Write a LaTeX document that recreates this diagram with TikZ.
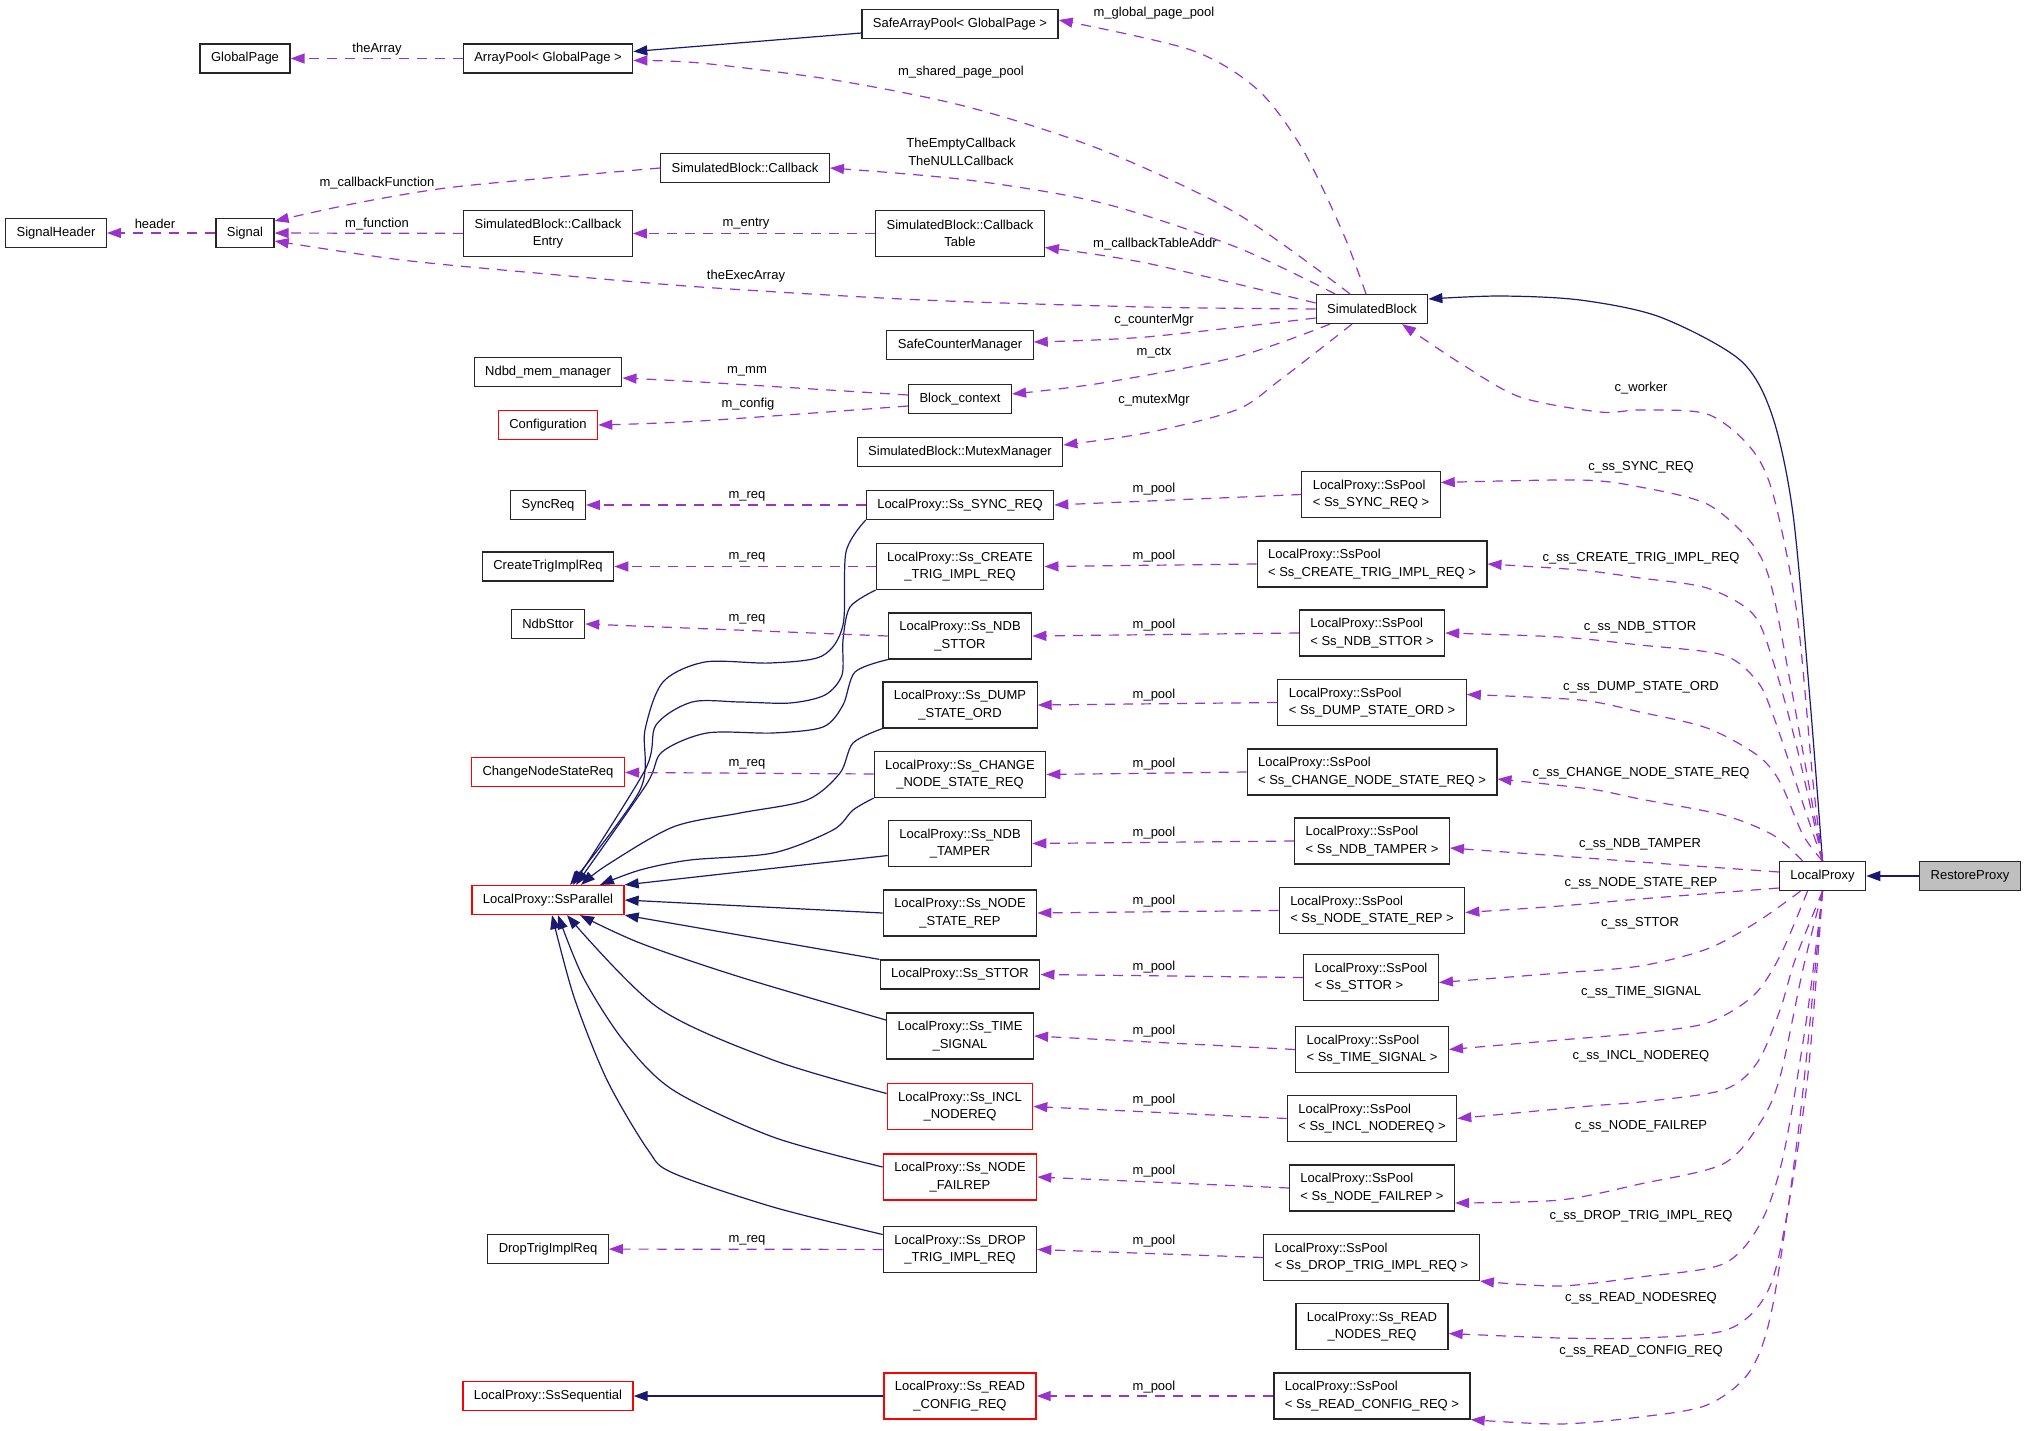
\documentclass[tikz,border=0pt]{standalone}
\usepackage{fontspec}
\usetikzlibrary{arrows.meta}

\newfontfamily\dxfont{Liberation Sans}
\newcommand{\dxf}{\dxfont\fontsize{13pt}{17.5pt}\selectfont}

\definecolor{usecol}{HTML}{9A32CD}
\definecolor{inhcol}{HTML}{191970}
\definecolor{restfill}{HTML}{BFBFBF}

\tikzstyle{klass}=[rectangle, draw=black!85, line width=1.2pt,
                   inner xsep=11pt, inner ysep=3pt, minimum height=29pt, font=\dxf]
\tikzstyle{klasstwo}=[klass, minimum height=46pt, align=center]
\tikzstyle{pool}=[klass, minimum height=46pt, align=left]
\tikzstyle{undoc}=[draw=red]
\tikzstyle{lbl}=[inner sep=0pt, font=\dxf]
\tikzstyle{member}=[usecol, line width=1.2pt, dash pattern=on 10pt off 8pt,
                    -{Triangle[length=14pt,width=10pt]}]
\tikzstyle{inherit}=[inhcol, line width=1.2pt, -{Triangle[length=14pt,width=10pt]}]

\begin{document}
\begin{tikzpicture}[x=1pt, y=-1pt]
  \fill[white] (0,0) rectangle (2027,1430);
  \useasboundingbox (0,0) rectangle (2027,1430);

  %%%%%%%%%%%%%%%%%%%%%%%%%%%%%%
  %%%%%%%%%%%%%%%%%%%%%%%%%%%%%%
  % collaboration

  %%%%%%%%%%%%%%%%%%%%%%%%%%%%%%
  % nodes
  % simulated block
  \node (globalpage) at (245, 58.5) [klass] {GlobalPage};
  \node (arraypool) at (548, 58.5) [klass] {ArrayPool< GlobalPage >};
  \node (safearray) at (960, 24) [klass] {SafeArrayPool< GlobalPage >};
  \node (callback) at (745, 168) [klass] {SimulatedBlock::Callback};
  \node (sigheader) at (56, 233) [klass] {SignalHeader};
  \node (signal) at (245, 233) [klass] {Signal};
  \node (cbentry) at (548, 233.5) [klasstwo] {SimulatedBlock::Callback\\Entry};
  \node (cbtable) at (960, 233.5) [klasstwo] {SimulatedBlock::Callback\\Table};
  \node (sb) at (1372, 309) [klass] {SimulatedBlock};
  \node (safecounter) at (960, 345) [klass] {SafeCounterManager};
  \node (ndbd) at (548, 372) [klass] {Ndbd\_mem\_manager};
  \node (blockctx) at (960, 399) [klass] {Block\_context};
  \node (config) at (548, 425) [klass, undoc] {Configuration};
  \node (mutex) at (960, 452) [klass] {SimulatedBlock::MutexManager};

  % requests
  \node (syncreq) at (548, 505) [klass] {SyncReq};
  \node (createreq) at (548, 566.5) [klass] {CreateTrigImplReq};
  \node (ndbsttor) at (548, 624) [klass] {NdbSttor};
  \node (cnsreq) at (548, 772) [klass, undoc] {ChangeNodeStateReq};
  \node (sspar) at (548, 900) [klass, undoc] {LocalProxy::SsParallel};
  \node (dropreq) at (548, 1249) [klass] {DropTrigImplReq};
  \node (ssseq) at (548, 1396) [klass, undoc] {LocalProxy::SsSequential};

  % signal states
  \node (ss_sync) at (960, 505) [klass] {LocalProxy::Ss\_SYNC\_REQ};
  \node (ss_create) at (960, 566.5) [klasstwo] {LocalProxy::Ss\_CREATE\\\_TRIG\_IMPL\_REQ};
  \node (ss_ndbst) at (960, 636) [klasstwo] {LocalProxy::Ss\_NDB\\\_STTOR};
  \node (ss_dump) at (960, 705) [klasstwo] {LocalProxy::Ss\_DUMP\\\_STATE\_ORD};
  \node (ss_change) at (960, 774.5) [klasstwo] {LocalProxy::Ss\_CHANGE\\\_NODE\_STATE\_REQ};
  \node (ss_tamper) at (960, 843.5) [klasstwo] {LocalProxy::Ss\_NDB\\\_TAMPER};
  \node (ss_nsrep) at (960, 913) [klasstwo] {LocalProxy::Ss\_NODE\\\_STATE\_REP};
  \node (ss_sttor) at (960, 974.5) [klass] {LocalProxy::Ss\_STTOR};
  \node (ss_time) at (960, 1036) [klasstwo] {LocalProxy::Ss\_TIME\\\_SIGNAL};
  \node (ss_incl) at (960, 1106.5) [klasstwo, undoc] {LocalProxy::Ss\_INCL\\\_NODEREQ};
  \node (ss_fail) at (960, 1177) [klasstwo, undoc] {LocalProxy::Ss\_NODE\\\_FAILREP};
  \node (ss_drop) at (960, 1249.5) [klasstwo] {LocalProxy::Ss\_DROP\\\_TRIG\_IMPL\_REQ};
  \node (ss_rcfg) at (960, 1396) [klasstwo, undoc] {LocalProxy::Ss\_READ\\\_CONFIG\_REQ};

  % pools
  \node (pool_sync) at (1371, 494.5) [pool] {LocalProxy::SsPool\\< Ss\_SYNC\_REQ >};
  \node (pool_create) at (1372, 564) [pool] {LocalProxy::SsPool\\< Ss\_CREATE\_TRIG\_IMPL\_REQ >};
  \node (pool_ndbst) at (1372, 633) [pool] {LocalProxy::SsPool\\< Ss\_NDB\_STTOR >};
  \node (pool_dump) at (1372, 702.5) [pool] {LocalProxy::SsPool\\< Ss\_DUMP\_STATE\_ORD >};
  \node (pool_change) at (1372, 772) [pool] {LocalProxy::SsPool\\< Ss\_CHANGE\_NODE\_STATE\_REQ >};
  \node (pool_tamper) at (1372, 841) [pool] {LocalProxy::SsPool\\< Ss\_NDB\_TAMPER >};
  \node (pool_nsrep) at (1372, 910.5) [pool] {LocalProxy::SsPool\\< Ss\_NODE\_STATE\_REP >};
  \node (pool_sttor) at (1371, 977.5) [pool] {LocalProxy::SsPool\\< Ss\_STTOR >};
  \node (pool_time) at (1372, 1049.5) [pool] {LocalProxy::SsPool\\< Ss\_TIME\_SIGNAL >};
  \node (pool_incl) at (1372, 1118.5) [pool] {LocalProxy::SsPool\\< Ss\_INCL\_NODEREQ >};
  \node (pool_fail) at (1372, 1188) [pool] {LocalProxy::SsPool\\< Ss\_NODE\_FAILREP >};
  \node (pool_drop) at (1371.5, 1257.5) [pool] {LocalProxy::SsPool\\< Ss\_DROP\_TRIG\_IMPL\_REQ >};
  \node (ss_rnodes) at (1372, 1326.5) [klasstwo] {LocalProxy::Ss\_READ\\\_NODES\_REQ};
  \node (pool_rcfg) at (1372, 1396) [pool] {LocalProxy::SsPool\\< Ss\_READ\_CONFIG\_REQ >};

  % proxies
  \node (lp) at (1822.5, 876) [klass] {LocalProxy};
  \node (restore) at (1970, 876) [klass, fill=restfill] {RestoreProxy};

  %%%%%%%%%%%%%%%%%%%%%%%%%%%%%%
  % labels
  \node (l_thearray) at (377, 49) [lbl] {theArray};
  \node (l_cbfunc) at (377, 183) [lbl] {m\_callbackFunction};
  \node (l_header) at (155, 224) [lbl] {header};
  \node (l_func) at (377, 224) [lbl] {m\_function};
  \node (l_gpool) at (1154, 13) [lbl] {m\_global\_page\_pool};
  \node (l_spool) at (961, 72) [lbl] {m\_shared\_page\_pool};
  \node (l_thecb) at (961, 152) [lbl, align=center] {TheEmptyCallback\\TheNULLCallback};
  \node (l_entry) at (746, 224) [lbl] {m\_entry};
  \node (l_cbtable) at (1155, 244) [lbl] {m\_callbackTableAddr};
  \node (l_exec) at (746, 276) [lbl] {theExecArray};
  \node (l_counter) at (1154, 320) [lbl] {c\_counterMgr};
  \node (l_ctx) at (1154, 353) [lbl] {m\_ctx};
  \node (l_mm) at (747, 371) [lbl] {m\_mm};
  \node (l_config) at (748, 404) [lbl] {m\_config};
  \node (l_mutex) at (1154, 400) [lbl] {c\_mutexMgr};
  \node (l_worker) at (1641, 388) [lbl] {c\_worker};

  \node (l_req1) at (747, 496) [lbl] {m\_req};
  \node (l_req2) at (747, 557) [lbl] {m\_req};
  \node (l_req3) at (747, 619) [lbl] {m\_req};
  \node (l_req4) at (747, 764) [lbl] {m\_req};
  \node (l_req5) at (747, 1240) [lbl] {m\_req};

  \node (l_pool1) at (1154, 489) [lbl] {m\_pool};
  \node (l_pool2) at (1154, 556) [lbl] {m\_pool};
  \node (l_pool3) at (1154, 625) [lbl] {m\_pool};
  \node (l_pool4) at (1154, 695) [lbl] {m\_pool};
  \node (l_pool5) at (1154, 764) [lbl] {m\_pool};
  \node (l_pool6) at (1154, 833) [lbl] {m\_pool};
  \node (l_pool7) at (1154, 901) [lbl] {m\_pool};
  \node (l_pool8) at (1154, 967) [lbl] {m\_pool};
  \node (l_pool9) at (1154, 1031) [lbl] {m\_pool};
  \node (l_pool10) at (1154, 1100) [lbl] {m\_pool};
  \node (l_pool11) at (1154, 1171) [lbl] {m\_pool};
  \node (l_pool12) at (1154, 1241) [lbl] {m\_pool};
  \node (l_pool13) at (1154, 1387) [lbl] {m\_pool};

  \node (l_css1) at (1641, 467) [lbl] {c\_ss\_SYNC\_REQ};
  \node (l_css2) at (1641, 558) [lbl] {c\_ss\_CREATE\_TRIG\_IMPL\_REQ};
  \node (l_css3) at (1640, 627) [lbl] {c\_ss\_NDB\_STTOR};
  \node (l_css4) at (1641, 687) [lbl] {c\_ss\_DUMP\_STATE\_ORD};
  \node (l_css5) at (1641, 773) [lbl] {c\_ss\_CHANGE\_NODE\_STATE\_REQ};
  \node (l_css6) at (1640, 844) [lbl] {c\_ss\_NDB\_TAMPER};
  \node (l_css7) at (1641, 883) [lbl] {c\_ss\_NODE\_STATE\_REP};
  \node (l_css8) at (1640, 923) [lbl] {c\_ss\_STTOR};
  \node (l_css9) at (1641, 992) [lbl] {c\_ss\_TIME\_SIGNAL};
  \node (l_css10) at (1641, 1056) [lbl] {c\_ss\_INCL\_NODEREQ};
  \node (l_css11) at (1641, 1126) [lbl] {c\_ss\_NODE\_FAILREP};
  \node (l_css12) at (1641, 1216) [lbl] {c\_ss\_DROP\_TRIG\_IMPL\_REQ};
  \node (l_css13) at (1641, 1298) [lbl] {c\_ss\_READ\_NODESREQ};
  \node (l_css14) at (1641, 1351) [lbl] {c\_ss\_READ\_CONFIG\_REQ};

  %%%%%%%%%%%%%%%%%%%%%%%%%%%%%%
  % links
  % inheritance
  \draw [inherit] ([yshift=-9pt]safearray.west) to ([yshift=7pt]arraypool.east);
  \draw [inherit] (restore) to (lp);
  \draw [inherit] plot[smooth] coordinates {(lp.north) (1810,700) (1793,514) (1772,415)
        (1740,360) (1660,317) (1580,300) (1500,296) ([yshift=10pt]sb.east)};
  \draw [inherit] (ss_rcfg) to (ssseq);

  \draw [inherit] plot[smooth] coordinates {(ss_sync.south west) (846,552) (843,625)
        (822,656) (770,663) (705,662) (663,682) (645,730) (640,790) ([xshift=22pt]sspar.north)};
  \draw [inherit] plot[smooth] coordinates {(ss_create.south west) (850,607) (843,640)
        (842,675) (825,695) (790,703) (740,702) (692,702) (656,725) (645,770) ([xshift=25pt]sspar.north)};
  \draw [inherit] plot[smooth] coordinates {(ss_ndbst.south west) (855,672) (843,705)
        (823,727) (773,733) (707,733) (662,752) (646,785) ([xshift=28pt]sspar.north)};
  \draw [inherit] plot[smooth] coordinates {(ss_dump.south west) (853,743) (840,773)
        (807,800) (740,813) (673,827) (607,865) ([xshift=33pt]sspar.north)};
  \draw [inherit] plot[smooth] coordinates {(ss_change.south west) (853,810) (833,830)
        (773,853) (690,860) (640,870) ([xshift=52pt]sspar.north)};
  \draw [inherit] ([yshift=-12pt]ss_tamper.west) to (sspar.north east);
  \draw [inherit] (ss_nsrep.west) to (sspar.east);
  \draw [inherit] (ss_sttor.north west) to (sspar.south east);
  \draw [inherit] plot[smooth] coordinates {([yshift=16pt]ss_time.west) (740,977) (640,943)
        ([xshift=32pt]sspar.south)};
  \draw [inherit] plot[smooth] coordinates {([yshift=13pt]ss_incl.west) (773,1060) (657,1007)
        ([xshift=19pt]sspar.south)};
  \draw [inherit] plot[smooth] coordinates {([yshift=10pt]ss_fail.west) (773,1137) (673,1090)
        (623,1040) (583,977) ([xshift=10pt]sspar.south)};
  \draw [inherit] plot[smooth] coordinates {([yshift=15pt]ss_drop.west) (773,1207) (673,1173)
        (648,1150) (607,1080) (574,997) ([xshift=4pt]sspar.south)};

  % members, simulated block
  \draw [member] (arraypool) to (globalpage);
  \draw [member] (cbentry) to (signal);
  \draw [member] (signal) to (sigheader);
  \draw [member] (cbtable) to (cbentry);
  \draw [member] plot[smooth] coordinates {([xshift=-6pt]sb.north) (1343,233) (1303,150)
        (1258,90) (1191,50) ([yshift=4pt]safearray.east)};
  \draw [member] plot[smooth] coordinates {([xshift=-22pt]sb.north) (1236,213) (1102,150)
        (968,107) (834,80) (700,63) ([yshift=-2pt]arraypool.east)};
  \draw [member] plot[smooth] coordinates {([xshift=-37pt]sb.north) (1236,247) (1102,203)
        (968,180) (callback.east)};
  \draw [member] plot[smooth] coordinates {([yshift=6pt]sb.west) (1146,263)
        ([yshift=-14pt]cbtable.east)};
  \draw [member] plot[smooth] coordinates {(sb.west) (1146,307) (923,300) (700,287)
        (536,273) (402,260) ([yshift=-8pt]signal.east)};
  \draw [member] plot[smooth] coordinates {(callback.west) (558,177) (446,188) (357,203)
        ([yshift=12pt]signal.east)};
  \draw [member] plot[smooth] coordinates {([yshift=-9pt]sb.west) (1146,337)
        ([yshift=3pt]safecounter.east)};
  \draw [member] plot[smooth] coordinates {([xshift=-42pt]sb.south) (1236,357) (1102,383)
        ([yshift=5pt]blockctx.east)};
  \draw [member] plot[smooth] coordinates {([xshift=-20pt]sb.south) (1280,380) (1236,410)
        (1146,433) ([yshift=7pt]mutex.east)};
  \draw [member] plot[smooth] coordinates {([yshift=4pt]blockctx.west) (700,382)
        ([yshift=-6pt]ndbd.east)};
  \draw [member] plot[smooth] coordinates {([yshift=-7pt]blockctx.west) (700,421)
        (config.east)};

  % members, requests
  \draw [member] (ss_sync) to (syncreq);
  \draw [member] (ss_create) to (createreq);
  \draw [member] (ss_ndbst.west) to (ndbsttor.east);
  \draw [member] (ss_change) to (cnsreq);
  \draw [member] (ss_drop) to (dropreq);

  % members, pools
  \draw [member] (pool_sync.west) to (ss_sync.east);
  \draw [member] (pool_create.west) to (ss_create.east);
  \draw [member] (pool_ndbst.west) to (ss_ndbst.east);
  \draw [member] (pool_dump.west) to (ss_dump.east);
  \draw [member] (pool_change.west) to (ss_change.east);
  \draw [member] (pool_tamper.west) to (ss_tamper.east);
  \draw [member] (pool_nsrep.west) to (ss_nsrep.east);
  \draw [member] (pool_sttor.west) to (ss_sttor.east);
  \draw [member] (pool_time.west) to (ss_time.east);
  \draw [member] (pool_incl.west) to (ss_incl.east);
  \draw [member] (pool_fail.west) to (ss_fail.east);
  \draw [member] (pool_drop.west) to (ss_drop.east);
  \draw [member] (pool_rcfg.west) to (ss_rcfg.east);

  % members, local proxy
  \draw [member] plot[smooth] coordinates {(lp.north) (1813,782) (1797,614) (1773,494)
        (1750,447) (1707,414) (1640,410) (1600,412) (1520,397) (1460,363) ([xshift=30pt]sb.south)};
  \draw [member] plot[smooth] coordinates {(lp.north) (1790,681) (1770,581) (1750,541)
        (1707,504) (1640,487) (1580,480) ([yshift=12pt]pool_sync.east)};
  \draw [member] plot[smooth] coordinates {(lp.north) (1797,748) (1773,661) (1753,614)
        (1707,588) (1640,578) (1580,570) (pool_create.east)};
  \draw [member] plot[smooth] coordinates {(lp.north) (1800,795) (1773,715) (1757,681)
        (1723,655) (1640,645) (1560,637) (pool_ndbst.east)};
  \draw [member] plot[smooth] coordinates {(lp.north) (1803,835) (1780,782) (1757,755)
        (1707,728) (1640,712) (1580,700) ([yshift=8pt]pool_dump.east)};
  \draw [member] plot[smooth] coordinates {([xshift=-20pt]lp.north) (1773,835) (1723,815)
        (1640,799) (1590,789) ([yshift=-7pt]pool_change.east)};
  \draw [member] plot[smooth] coordinates {([yshift=4pt]lp.west) (1640,862) (1560,856)
        ([yshift=-7pt]pool_tamper.east)};
  \draw [member] plot[smooth] coordinates {([yshift=-12pt]lp.west) (1640,899) (1560,906)
        ([yshift=-2pt]pool_nsrep.east)};
  \draw [member] plot[smooth] coordinates {([xshift=-22pt]lp.south) (1757,922) (1707,949)
        (1640,966) (1560,973) ([yshift=-5pt]pool_sttor.east)};
  \draw [member] plot[smooth] coordinates {([xshift=-15pt]lp.south) (1780,956) (1753,996)
        (1707,1023) (1640,1033) (1560,1040) (pool_time.east)};
  \draw [member] plot[smooth] coordinates {(lp.south) (1795,960) (1780,1010) (1757,1063)
        (1723,1090) (1640,1102) (1590,1106) (pool_incl.east)};
  \draw [member] plot[smooth] coordinates {(lp.south) (1803,969) (1780,1077) (1760,1123)
        (1723,1164) (1640,1184) (1560,1200) ([yshift=-15pt]pool_fail.east)};
  \draw [member] plot[smooth] coordinates {(lp.south) (1807,1016) (1783,1157) (1760,1224)
        (1723,1264) (1640,1277) (1560,1286) (pool_drop.south east)};
  \draw [member] plot[smooth] coordinates {(lp.south) (1807,1083) (1780,1251) (1760,1304)
        (1723,1331) (1640,1338) (1560,1338) ([yshift=-7pt]ss_rnodes.east)};
  \draw [member] plot[smooth] coordinates {(lp.south) (1800,1117) (1773,1304) (1750,1371)
        (1707,1405) (1640,1417) (1560,1424) (pool_rcfg.south east)};

\end{tikzpicture}
\end{document}
